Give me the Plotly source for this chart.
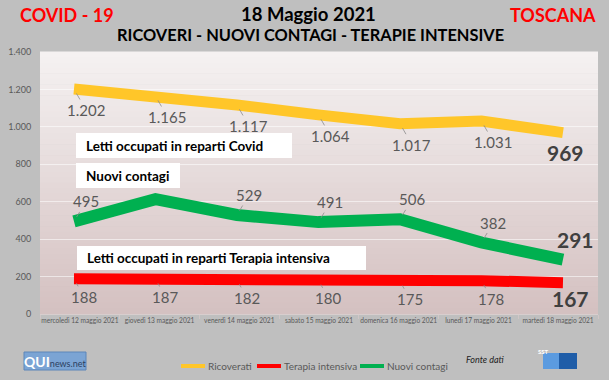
import plotly.graph_objects as go

# ---------------- data ----------------
dates = ["mercoledì 12 maggio 2021", "giovedì 13 maggio 2021", "venerdì 14 maggio 2021",
         "sabato 15 maggio 2021", "domenica 16 maggio 2021", "lunedì 17 maggio 2021",
         "martedì 18 maggio 2021"]
ricoverati = [1202, 1165, 1117, 1064, 1017, 1031, 969]
nuovi_contagi = [495, 614, 529, 491, 506, 382, 291]
terapia_intensiva = [188, 187, 182, 180, 175, 178, 167]
contagi_label_shown = [True, False, True, True, True, True, True]
series_names = ["Ricoverati", "Terapia intensiva", "Nuovi contagi"]
y_tick_vals = [0, 200, 400, 600, 800, 1000, 1200, 1400]
y_tick_text = ["0", "200", "400", "600", "800", "1.000", "1.200", "1.400"]

# ---------------- geometry / style ----------------
W, H = 609, 380
ML, MR, MT, MB = 40, 11, 52, 66
PW, PH = W - ML - MR, H - MT - MB
FONT = "Lato"
YELLOW, RED, GREEN = "#FFC629", "#FF0000", "#00B050"
GREY_TXT = "#595959"


def px(x):
    return (x - ML) / PW


def py(y):
    return (H - MB - y) / PH


def it_num(v):
    return f"{v:,}".replace(",", ".")


fig = go.Figure()

# invisible helper trace so the labelled category axis knows its categories
fig.add_trace(go.Scatter(x=dates, y=ricoverati, xaxis="x", mode="markers",
                         marker=dict(opacity=0), showlegend=False, hoverinfo="skip"))

fig.add_trace(go.Scatter(x=dates, y=ricoverati, xaxis="x2", mode="lines", name=series_names[0],
                         line=dict(color=YELLOW, width=11), showlegend=False, hoverinfo="skip"))
fig.add_trace(go.Scatter(x=dates, y=terapia_intensiva, xaxis="x2", mode="lines", name=series_names[1],
                         line=dict(color=RED, width=11), showlegend=False, hoverinfo="skip"))
fig.add_trace(go.Scatter(x=dates, y=nuovi_contagi, xaxis="x2", mode="lines", name=series_names[2],
                         line=dict(color=GREEN, width=12), showlegend=False, hoverinfo="skip"))

shapes = []
# background gradient of the plot area
N = 48
top = (245, 242, 242)
bot = (212, 192, 192)
for i in range(N):
    t = (i + 0.5) / N
    c = tuple(round(top[k] + (bot[k] - top[k]) * t) for k in range(3))
    shapes.append(dict(type="rect", xref="paper", yref="paper", x0=0, x1=1,
                       y0=1 - (i + 1) / N, y1=1 - i / N + 0.002,
                       fillcolor=f"rgb{c}", line=dict(width=0), layer="below"))

# white text boxes
boxes = [(76, 133, 292, 158), (76, 163, 180, 188), (77, 246, 366, 270)]
for x0, y0, x1, y1 in boxes:
    shapes.append(dict(type="rect", xref="paper", yref="paper", x0=px(x0), x1=px(x1),
                       y0=py(y1), y1=py(y0), fillcolor="white", line=dict(width=0), layer="above"))

# logos
shapes.append(dict(type="rect", xref="paper", yref="paper", x0=px(24), x1=px(86),
                   y0=py(370), y1=py(352), fillcolor="#7BA4D4",
                   line=dict(color="#5D86B9", width=1), layer="above"))
shapes.append(dict(type="rect", xref="paper", yref="paper", x0=px(543), x1=px(559),
                   y0=py(369), y1=py(353), fillcolor="#5B9BE0", line=dict(width=0), layer="above"))
shapes.append(dict(type="rect", xref="paper", yref="paper", x0=px(559), x1=px(577),
                   y0=py(369), y1=py(353), fillcolor="#1F5DA8", line=dict(width=0), layer="above"))

ann = []
# titles
ann.append(dict(text="<b>COVID - 19</b>", x=px(67), y=py(15), font=dict(size=18, color="#FF0000")))
ann.append(dict(text="<b>18 Maggio 2021</b>", x=px(308), y=py(14), font=dict(size=18.5, color="black")))
ann.append(dict(text="<b>TOSCANA</b>", x=px(553), y=py(15), font=dict(size=18, color="#FF0000")))
ann.append(dict(text="<b>RICOVERI - NUOVI CONTAGI - TERAPIE INTENSIVE</b>", x=px(310), y=py(34),
                font=dict(size=16.4, color="black")))
for t in ann:
    t.update(xref="paper", yref="paper", showarrow=False, xanchor="center", yanchor="middle")

# box texts
box_texts = ["Letti occupati in reparti Covid", "Nuovi contagi",
             "Letti occupati in reparti Terapia intensiva"]
for (x0, y0, x1, y1), txt in zip(boxes, box_texts):
    ann.append(dict(text=f"<b>{txt}</b>", xref="paper", yref="paper", x=px(x0 + 8),
                    y=py((y0 + y1) / 2), xanchor="left", yanchor="middle", showarrow=False,
                    font=dict(size=13.5, color="black")))


def labels(values, offs, last_off, shown=None):
    n = len(values)
    for i, v in enumerate(values):
        if shown is not None and not shown[i]:
            continue
        if i == n - 1:
            ann.append(dict(text=f"<b>{it_num(v)}</b>", xref="x2", yref="y", x=dates[i], y=v,
                            xshift=last_off[0], yshift=-last_off[1], showarrow=False,
                            xanchor="center", yanchor="middle",
                            font=dict(size=21, color="#404040")))
        else:
            ann.append(dict(text=it_num(v), xref="x2", yref="y", x=dates[i], y=v,
                            ax=offs[0], ay=offs[1], showarrow=True, arrowhead=0,
                            arrowwidth=0.8, arrowcolor="#8C8C8C", standoff=5,
                            font=dict(size=15, color=GREY_TXT)))


labels(ricoverati, (12, 21), (3, 20))
labels(nuovi_contagi, (12, -20), (13, -20), contagi_label_shown)
labels(terapia_intensiva, (10, 18), (8, 16))

# manual legend
leg_x = [181, 257, 360]
for lx, name, col in zip(leg_x, series_names, [YELLOW, RED, GREEN]):
    shapes.append(dict(type="line", xref="paper", yref="paper", x0=px(lx), x1=px(lx + 24),
                       y0=py(366), y1=py(366), line=dict(color=col, width=4), layer="above"))
    ann.append(dict(text=name, xref="paper", yref="paper", x=px(lx + 25), y=py(366),
                    xanchor="left", yanchor="middle", showarrow=False,
                    font=dict(size=10, color=GREY_TXT)))

# footer texts
ann.append(dict(text="<b><span style='font-size:14px;color:white'>QUI</span></b>"
                     "<span style='font-size:9px;color:#2B3F60'>news.net</span>",
                xref="paper", yref="paper", x=px(55), y=py(361), showarrow=False,
                xanchor="center", yanchor="middle", font=dict(size=9)))
ann.append(dict(text="<b>SST</b>", xref="paper", yref="paper", x=px(551), y=py(357),
                showarrow=False, font=dict(size=6, color="white")))
ann.append(dict(text="<i>Fonte dati</i>", xref="paper", yref="paper", x=px(507), y=py(367),
                showarrow=False, font=dict(size=9, color="#222222")))

fig.update_layout(
    template="none",
    width=W, height=H,
    margin=dict(l=ML, r=MR, t=MT, b=MB, autoexpand=False),
    paper_bgcolor="#BFBFBF", plot_bgcolor="rgba(0,0,0,0)",
    font=dict(family=FONT, color=GREY_TXT),
    shapes=shapes, annotations=ann,
    showlegend=False,
    xaxis=dict(type="category", categoryorder="array", categoryarray=dates, range=[-0.5, 6.5],
               automargin=False, ticklabeloverflow="allow",
               tickson="boundaries", ticks="outside", ticklen=4, tickcolor="#D0C6C6",
               showline=True, linecolor="#D8CECE", showgrid=False, zeroline=False,
               showticklabels=True, tickfont=dict(size=6.6, color=GREY_TXT), tickangle=0),
    xaxis2=dict(type="category", categoryorder="array", categoryarray=dates, overlaying="x",
                range=[-0.417, 6.43], visible=False, automargin=False),
    yaxis=dict(range=[0, 1400], tickvals=y_tick_vals, ticktext=y_tick_text, automargin=False,
               showgrid=True, gridcolor="rgba(255,255,255,0.55)", gridwidth=1,
               zeroline=False, showline=False, ticks="outside", ticklen=6,
               tickcolor="rgba(0,0,0,0)", tickfont=dict(size=9, color=GREY_TXT)),
)

fig.write_html("out.html", config={"displayModeBar": False},
               post_script="document.body.style.margin='0px';document.body.style.background='#BFBFBF';")
